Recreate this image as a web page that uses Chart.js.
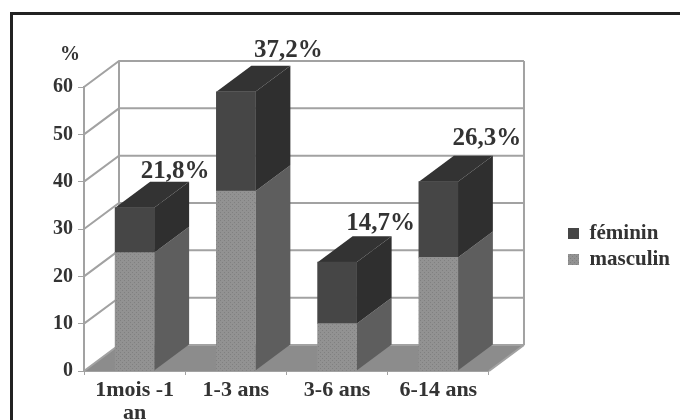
<!DOCTYPE html>
<html lang="fr">
<head>
<meta charset="utf-8">
<title>Répartition par âge et sexe</title>
<script src="https://cdn.jsdelivr.net/npm/chart.js@4"></script>
<style>
  html, body { margin: 0; padding: 0; background: #fff; overflow: hidden; }
  #wrap { position: relative; width: 680px; height: 420px; }
  #frame { position: absolute; left: 10px; top: 12px; right: 0; bottom: 0; border-left: 3px solid #222; border-top: 3px solid #222; }
  canvas { position: absolute; left: 0; top: 0; }
</style>
</head>
<body>
<div id="wrap">
  <div id="frame"></div>
  <canvas id="chart" width="680" height="420"></canvas>
</div>
<script>
  // Data
  const categories = [["1mois -1", "an"], "1-3 ans", "3-6 ans", "6-14 ans"];
  const masculin = [25, 38, 10, 24];
  const feminin = [9.5, 21, 13, 16];
  const shareLabels = ["21,8%", "37,2%", "14,7%", "26,3%"];

  // Styles
  const FONT = "'Liberation Serif', serif";
  const TEXT_COLOR = "#333";
  const WALL_COLOR = "#a2a2a2";
  const DEPTH_X = 35;
  const DEPTH_Y = 26;

  // Where each share label sits, measured from the back right corner of its bar
  const labelNudgeX = [-14, -2, -11, -6];
  const labelNudgeY = [-10, -15, -13, -17];

  // Light dotted fill for the front of the masculin bars
  function dottedFill() {
    const tile = document.createElement("canvas");
    tile.width = 4;
    tile.height = 4;
    const c = tile.getContext("2d");
    c.fillStyle = "#929292";
    c.fillRect(0, 0, 4, 4);
    c.fillStyle = "#808080";
    c.fillRect(0, 0, 1, 1);
    c.fillRect(2, 2, 1, 1);
    return c.createPattern(tile, "repeat");
  }

  function quad(ctx, points, color) {
    ctx.beginPath();
    points.forEach((p, i) => (i ? ctx.lineTo(p[0], p[1]) : ctx.moveTo(p[0], p[1])));
    ctx.closePath();
    ctx.fillStyle = color;
    ctx.fill();
  }

  // Back wall, floor and the side and top faces of the bars
  const depthPlugin = {
    id: "depth",
    beforeDatasetsDraw(chart) {
      const { ctx, chartArea: area, scales: { y } } = chart;
      const floorY = y.getPixelForValue(0);

      quad(ctx, [
        [area.left, floorY],
        [area.right, floorY],
        [area.right + DEPTH_X, floorY - DEPTH_Y],
        [area.left + DEPTH_X, floorY - DEPTH_Y]
      ], "#8c8c8c");

      ctx.strokeStyle = WALL_COLOR;
      ctx.lineWidth = 2;
      y.ticks.forEach(tick => {
        const py = y.getPixelForValue(tick.value);
        ctx.beginPath();
        ctx.moveTo(area.left, py);
        ctx.lineTo(area.left + DEPTH_X, py - DEPTH_Y);
        ctx.lineTo(area.right + DEPTH_X, py - DEPTH_Y);
        ctx.stroke();
      });
      const topY = y.getPixelForValue(60) - DEPTH_Y;
      ctx.beginPath();
      ctx.moveTo(area.left + DEPTH_X, topY);
      ctx.lineTo(area.left + DEPTH_X, floorY - DEPTH_Y);
      ctx.moveTo(area.right + DEPTH_X, topY);
      ctx.lineTo(area.right + DEPTH_X, floorY - DEPTH_Y);
      ctx.moveTo(area.right, floorY);
      ctx.lineTo(area.right + DEPTH_X, floorY - DEPTH_Y);
      ctx.stroke();

      const sideColors = ["#5e5e5e", "#2f2f2f"];
      chart.data.datasets.forEach((ds, d) => {
        chart.getDatasetMeta(d).data.forEach(bar => {
          const left = bar.x - bar.width / 2;
          const right = bar.x + bar.width / 2;
          quad(ctx, [
            [right, bar.y],
            [right, bar.base],
            [right + DEPTH_X, bar.base - DEPTH_Y],
            [right + DEPTH_X, bar.y - DEPTH_Y]
          ], sideColors[d]);
          if (d === chart.data.datasets.length - 1) {
            quad(ctx, [
              [left, bar.y],
              [right, bar.y],
              [right + DEPTH_X, bar.y - DEPTH_Y],
              [left + DEPTH_X, bar.y - DEPTH_Y]
            ], "#333");
          }
        });
      });
    },
    afterDatasetsDraw(chart) {
      const { ctx } = chart;
      const last = chart.data.datasets.length - 1;
      ctx.save();
      ctx.fillStyle = TEXT_COLOR;
      ctx.textAlign = "center";
      ctx.textBaseline = "middle";
      ctx.font = "bold 25px " + FONT;
      chart.getDatasetMeta(last).data.forEach((bar, i) => {
        const cornerX = bar.x + bar.width / 2 + DEPTH_X;
        const cornerY = bar.y - DEPTH_Y;
        ctx.fillText(shareLabels[i], cornerX + labelNudgeX[i], cornerY + labelNudgeY[i]);
      });
      ctx.font = "bold 20px " + FONT;
      ctx.fillText("%", 70, 55);
      ctx.restore();
    },
    // The legend sits to the right of the plot, clear of the floor's corner
    afterLayout(chart) {
      const legend = chart.legend;
      const width = legend.right - legend.left;
      legend.left = 563;
      legend.right = 563 + width;
      legend.top = 218;
      legend.bottom = 298;
    }
  };

  new Chart(document.getElementById("chart"), {
    type: "bar",
    data: {
      labels: categories,
      datasets: [
        { label: "masculin", data: masculin, backgroundColor: dottedFill() },
        { label: "féminin", data: feminin, backgroundColor: "#464646" }
      ]
    },
    plugins: [depthPlugin],
    options: {
      responsive: false,
      animation: false,
      layout: { padding: { top: 87, right: 74, left: 0, bottom: 0 } },
      datasets: { bar: { barThickness: 39, borderWidth: 0 } },
      scales: {
        x: {
          stacked: true,
          afterFit(scale) { scale.height = 49; },
          grid: { offset: true, drawOnChartArea: false, color: WALL_COLOR, tickLength: 4 },
          border: { color: WALL_COLOR, width: 2 },
          ticks: {
            color: TEXT_COLOR,
            padding: 4,
            maxRotation: 0,
            autoSkip: false,
            font: { family: FONT, size: 22, weight: "bold", lineHeight: 1.05 }
          }
        },
        y: {
          stacked: true,
          min: 0,
          max: 60,
          afterFit(scale) { scale.width = 84; },
          grid: { drawOnChartArea: false, color: WALL_COLOR, tickLength: 6 },
          border: { color: WALL_COLOR, width: 2 },
          ticks: {
            stepSize: 10,
            color: TEXT_COLOR,
            padding: 5,
            font: { family: FONT, size: 20, weight: "bold" }
          }
        }
      },
      plugins: {
        tooltip: { enabled: false },
        legend: {
          position: "right",
          align: "start",
          reverse: true,
          labels: {
            boxWidth: 11,
            boxHeight: 11,
            padding: 5,
            color: TEXT_COLOR,
            font: { family: FONT, size: 21, weight: "bold" }
          }
        }
      }
    }
  });
</script>
</body>
</html>
